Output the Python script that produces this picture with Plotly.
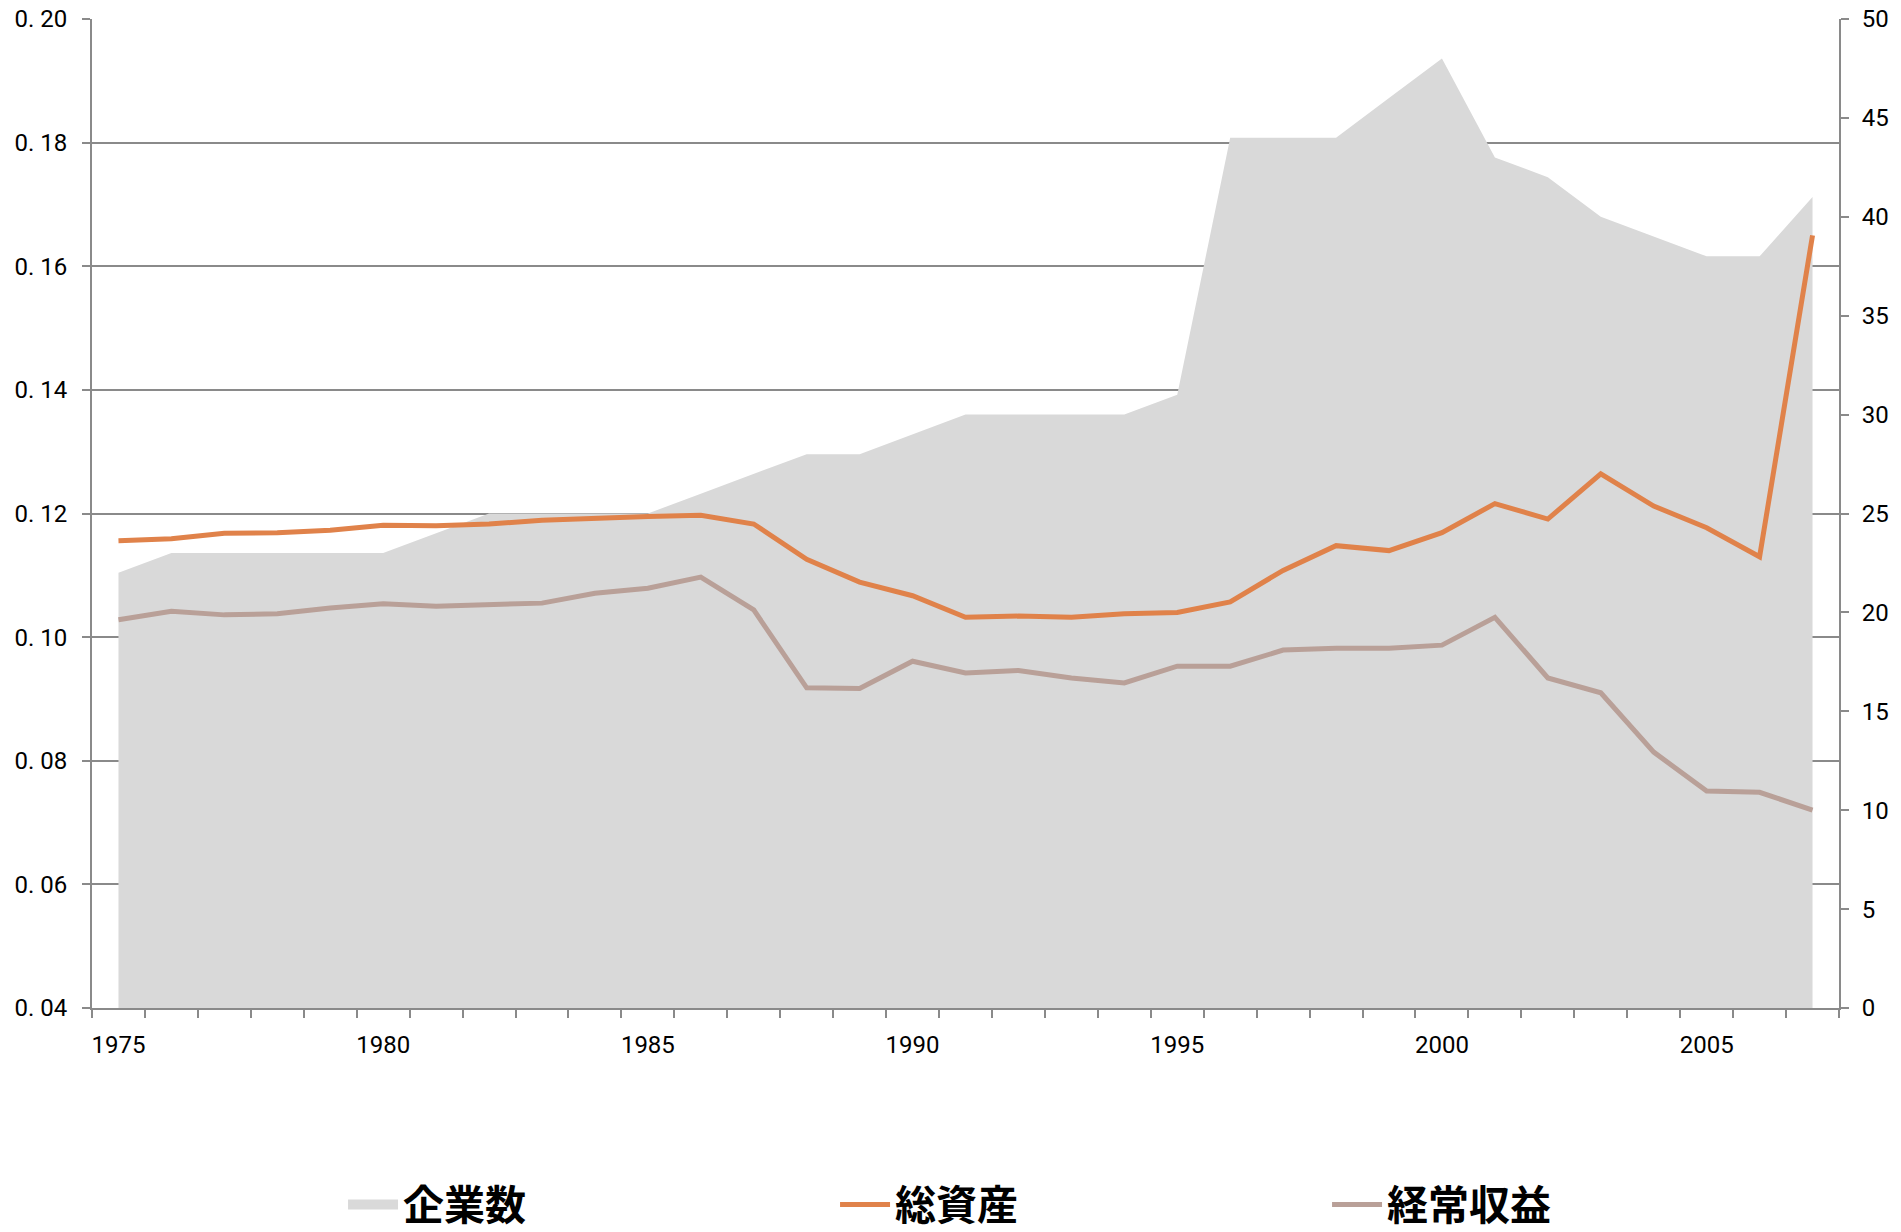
import plotly.graph_objects as go

years = list(range(1975, 2008))

# 企業数 (right axis)
firms = [22, 23, 23, 23, 23, 23, 24, 25, 25, 25, 25, 26, 27, 28, 28, 29, 30, 30, 30, 30,
         31, 44, 44, 44, 46, 48, 43, 42, 40, 39, 38, 38, 41]

# 総資産 (left axis)
assets = [0.1156, 0.1159, 0.1168, 0.1169, 0.1173, 0.1181, 0.1180, 0.1183, 0.1189, 0.1193,
          0.1195, 0.1197, 0.1183, 0.1126, 0.1089, 0.1067, 0.1032, 0.1034, 0.1032, 0.1038,
          0.1040, 0.1057, 0.1108, 0.1148, 0.1140, 0.1169, 0.1216, 0.1191, 0.1264, 0.1212,
          0.1177, 0.1130, 0.1650]

# 経常収益 (left axis)
revenue = [0.1028, 0.1042, 0.1036, 0.1038, 0.1047, 0.1054, 0.1050, 0.1053, 0.1055, 0.1071,
           0.1079, 0.1097, 0.1044, 0.0918, 0.0917, 0.0961, 0.0942, 0.0946, 0.0934, 0.0926,
           0.0953, 0.0953, 0.0979, 0.0982, 0.0982, 0.0987, 0.1032, 0.0934, 0.0910, 0.0814,
           0.0751, 0.0749, 0.0720]

left_tickvals = [0.04, 0.06, 0.08, 0.10, 0.12, 0.14, 0.16, 0.18, 0.20]
left_ticktext = ["0. 04", "0. 06", "0. 08", "0. 10", "0. 12", "0. 14", "0. 16", "0. 18", "0. 20"]
right_tickvals = [0, 5, 10, 15, 20, 25, 30, 35, 40, 45, 50]
x_tickvals = [1975, 1980, 1985, 1990, 1995, 2000, 2005]

names = ["企業数", "総資産", "経常収益"]

AXIS_COLOR = "#8a8a8a"
GRAY = "#d9d9d9"
ORANGE = "#e0824a"
TAUPE = "#b9a098"
NUM_FONT = "Roboto, Noto Sans CJK JP"
JP_FONT = "Noto Sans CJK JP"

fig = go.Figure()
# area (legend shown through a swatch entry sharing its group)
fig.add_trace(go.Scatter(
    x=years, y=firms, name=names[0], mode="lines", fill="tozeroy",
    fillcolor=GRAY, line=dict(width=0, color=GRAY), yaxis="y",
    legendgroup="firms", showlegend=False))
fig.add_trace(go.Scatter(
    x=[None], y=[None], name=names[0], mode="lines",
    line=dict(width=20, color=GRAY), yaxis="y",
    legendgroup="firms", showlegend=True))
fig.add_trace(go.Scatter(
    x=years, y=assets, name=names[1], mode="lines",
    line=dict(width=5, color=ORANGE), yaxis="y2"))
fig.add_trace(go.Scatter(
    x=years, y=revenue, name=names[2], mode="lines",
    line=dict(width=5, color=TAUPE), yaxis="y2"))

fig.update_layout(
    width=1901, height=1232,
    margin=dict(l=92, r=62, t=19, b=224, autoexpand=False),
    paper_bgcolor="white", plot_bgcolor="white",
    font=dict(family=JP_FONT, color="black"),
    showlegend=True,
    legend=dict(
        orientation="h", x=0.1437, xanchor="left", y=-0.199, yanchor="middle",
        font=dict(family=JP_FONT, size=41, color="black", weight="bold"),
        entrywidth=427, entrywidthmode="pixels", itemwidth=50,
        traceorder="normal", tracegroupgap=0,
    ),
    xaxis=dict(
        range=[1974.5, 2007.5], tickvals=x_tickvals, ticks="", showgrid=False,
        showline=True, linecolor=AXIS_COLOR, linewidth=2,
        tickfont=dict(size=24, family=NUM_FONT), ticklabelstandoff=14,
        ticklabeloverflow="allow", automargin=False,
        minor=dict(ticks="outside", tick0=0.5, dtick=1, ticklen=8,
                   tickcolor=AXIS_COLOR, tickwidth=2, showgrid=False),
        zeroline=False,
    ),
    yaxis=dict(
        side="right", range=[0, 50], tickvals=right_tickvals, showgrid=False,
        ticks="outside", ticklen=8, tickcolor=AXIS_COLOR, tickwidth=2,
        showline=True, linecolor=AXIS_COLOR, linewidth=2,
        tickfont=dict(size=24, family=NUM_FONT), ticklabelstandoff=8,
        ticklabeloverflow="allow", automargin=False, zeroline=False,
    ),
    yaxis2=dict(
        overlaying="y", side="left", range=[0.04, 0.20],
        tickvals=left_tickvals, ticktext=left_ticktext,
        showgrid=True, gridcolor=AXIS_COLOR, gridwidth=2,
        ticks="outside", ticklen=8, tickcolor=AXIS_COLOR, tickwidth=2,
        showline=True, linecolor=AXIS_COLOR, linewidth=2,
        tickfont=dict(size=24, family=NUM_FONT), ticklabelstandoff=10,
        ticklabeloverflow="allow", automargin=False, zeroline=False,
    ),
)

fig.write_html(
    "out.html",
    config={"displayModeBar": False},
    post_script="document.body.style.margin='0px';document.body.style.overflow='hidden';",
)
